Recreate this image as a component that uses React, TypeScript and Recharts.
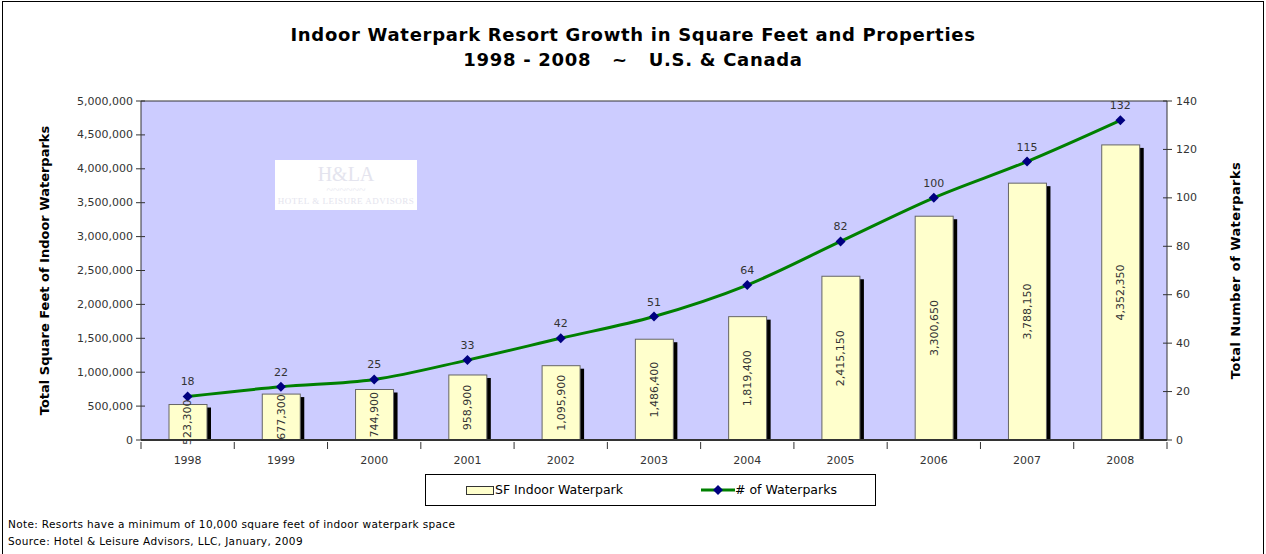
import React from 'react';
import {
  ComposedChart,
  Bar,
  Line,
  XAxis,
  YAxis,
  CartesianGrid,
  LabelList,
} from 'recharts';

const years = ['1998', '1999', '2000', '2001', '2002', '2003', '2004', '2005', '2006', '2007', '2008'];
const squareFeet = [523300, 677300, 744900, 958900, 1095900, 1486400, 1819400, 2415150, 3300650, 3788150, 4352350];
const waterparks = [18, 22, 25, 33, 42, 51, 64, 82, 100, 115, 132];
const leftTicks = [0, 500000, 1000000, 1500000, 2000000, 2500000, 3000000, 3500000, 4000000, 4500000, 5000000];
const rightTicks = [0, 20, 40, 60, 80, 100, 120, 140];

const data = years.map((year, i) => ({ year, sf: squareFeet[i], parks: waterparks[i] }));

const FONT = "'DejaVu Sans', Verdana, sans-serif";
const PLOT_LEFT = 141;
const PLOT_RIGHT = 1167;
const BAND = (PLOT_RIGHT - PLOT_LEFT) / years.length;

const fmt = (v: number) => v.toLocaleString('en-US');

const ShadowBar = (props: any) => {
  const { x, y, width, height } = props;
  if (!height) return null;
  return (
    <g>
      <rect x={x + 4} y={y + 3} width={width} height={height - 3} fill="#000" />
      <rect x={x} y={y} width={width} height={height} fill="#FFFFCC" stroke="#666" strokeWidth={1} />
    </g>
  );
};

const Diamond = (props: any) => {
  const { cx, cy } = props;
  if (cx == null || cy == null) return null;
  const r = 5;
  return (
    <polygon
      points={`${cx},${cy - r} ${cx + r},${cy} ${cx},${cy + r} ${cx - r},${cy}`}
      fill="#000080"
    />
  );
};

const BarValueLabel = (props: any) => {
  const { x, y, width, height, value } = props;
  const cx = x + width / 2;
  const cy = y + height / 2;
  return (
    <text
      x={cx}
      y={cy}
      transform={`rotate(-90 ${cx} ${cy})`}
      textAnchor="middle"
      dominantBaseline="central"
      fontSize={11}
      fill="#333"
    >
      {fmt(value)}
    </text>
  );
};

const YearTick = (props: any) => {
  const { x, y, payload, index } = props;
  const left = x - BAND / 2;
  return (
    <g>
      <line x1={left} y1={y - 6} x2={left} y2={y + 1} stroke="#333" />
      {index === years.length - 1 && (
        <line x1={x + BAND / 2} y1={y - 6} x2={x + BAND / 2} y2={y + 1} stroke="#333" />
      )}
      <text x={x} y={y + 16} textAnchor="middle" fontSize={11} fill="#333">
        {payload.value}
      </text>
    </g>
  );
};

const LeftTick = (props: any) => {
  const { y, payload } = props;
  return (
    <g>
      <line x1={PLOT_LEFT - 5} y1={y} x2={PLOT_LEFT + 4} y2={y} stroke="#333" />
      <text x={PLOT_LEFT - 8} y={y} textAnchor="end" dominantBaseline="central" fontSize={11} fill="#333">
        {fmt(payload.value)}
      </text>
    </g>
  );
};

const RightTick = (props: any) => {
  const { y, payload } = props;
  return (
    <g>
      <line x1={PLOT_RIGHT - 4} y1={y} x2={PLOT_RIGHT + 5} y2={y} stroke="#333" />
      <text x={PLOT_RIGHT + 9} y={y} textAnchor="start" dominantBaseline="central" fontSize={11} fill="#333">
        {payload.value}
      </text>
    </g>
  );
};

const axisTitle = (cx: number, text: string, spacing: number) => ({ viewBox }: any) => {
  const cy = viewBox.y + viewBox.height / 2;
  return (
    <text
      x={cx}
      y={cy}
      transform={`rotate(-90 ${cx} ${cy})`}
      textAnchor="middle"
      dominantBaseline="central"
      fontSize={13}
      fontWeight="bold"
      letterSpacing={spacing}
      fill="#000"
    >
      {text}
    </text>
  );
};

export default function App() {
  return (
    <div
      style={{
        position: 'fixed',
        left: 0,
        top: 0,
        width: 1266,
        height: 554,
        overflow: 'hidden',
        background: '#fff',
        fontFamily: FONT,
      }}
    >
      <div
        style={{
          position: 'absolute',
          left: 2,
          top: 1,
          width: 1260,
          height: 570,
          border: '1.5px solid #000',
        }}
      />
      <div
        style={{
          position: 'absolute',
          left: 0,
          top: 22,
          width: 1266,
          textAlign: 'center',
          fontWeight: 'bold',
          fontSize: 18,
          letterSpacing: 0.7,
          lineHeight: '25px',
          color: '#000',
        }}
      >
        <div>Indoor Waterpark Resort Growth in Square Feet and Properties</div>
        <div style={{ whiteSpace: 'pre' }}>{'1998 - 2008   ~   U.S. & Canada'}</div>
      </div>

      <div style={{ position: 'absolute', left: 0, top: 0 }}>
        <ComposedChart
          width={1266}
          height={554}
          data={data}
          margin={{ top: 101, right: 0, bottom: 84, left: 0 }}
          barCategoryGap={0}
        >
          <CartesianGrid
            fill="#CCCCFF"
            vertical={false}
            horizontalCoordinatesGenerator={() => [101]}
            stroke="#333"
          />
          <XAxis
            dataKey="year"
            height={30}
            tickLine={false}
            axisLine={{ stroke: '#333', strokeWidth: 2 }}
            tick={<YearTick />}
            interval={0}
          />
          <YAxis
            yAxisId="left"
            width={141}
            domain={[0, 5000000]}
            ticks={leftTicks}
            interval={0}
            tickLine={false}
            axisLine={{ stroke: '#333' }}
            tick={<LeftTick />}
            label={axisTitle(44, 'Total Square Feet of Indoor Waterparks', 0)}
          />
          <YAxis
            yAxisId="right"
            orientation="right"
            width={99}
            domain={[0, 140]}
            ticks={rightTicks}
            interval={0}
            tickLine={false}
            axisLine={{ stroke: '#333' }}
            tick={<RightTick />}
            label={axisTitle(1235, 'Total Number of Waterparks', 0.4)}
          />
          <Bar
            yAxisId="left"
            dataKey="sf"
            barSize={38}
            fill="#FFFFCC"
            shape={<ShadowBar />}
            isAnimationActive={false}
          >
            <LabelList dataKey="sf" content={<BarValueLabel />} />
          </Bar>
          <Line
            yAxisId="right"
            type="monotone"
            dataKey="parks"
            stroke="#008000"
            strokeWidth={3}
            dot={<Diamond />}
            activeDot={false}
            isAnimationActive={false}
          >
            <LabelList dataKey="parks" position="top" offset={11} fontSize={11} fill="#333" />
          </Line>
        </ComposedChart>
      </div>

      {/* logo placeholder */}
      <div
        style={{
          position: 'absolute',
          left: 275,
          top: 160,
          width: 142,
          height: 50,
          background: '#fff',
          color: '#e4e4ee',
          textAlign: 'center',
          fontFamily: "'Liberation Serif', serif",
        }}
      >
        <div style={{ fontSize: 20, lineHeight: '24px', paddingTop: 2 }}>H&amp;LA</div>
        <div style={{ fontSize: 12, lineHeight: '8px', color: '#e8e8f0' }}>~~~~~~</div>
        <div style={{ fontSize: 9, lineHeight: '14px', letterSpacing: 0.5 }}>HOTEL &amp; LEISURE ADVISORS</div>
      </div>

      {/* legend */}
      <div
        style={{
          position: 'absolute',
          left: 425,
          top: 474,
          width: 449,
          height: 30,
          border: '1px solid #000',
          background: '#fff',
          fontSize: 12.5,
          color: '#000',
        }}
      >
        <div style={{ position: 'absolute', left: 40, top: 11, width: 26, height: 7, background: '#FFFFCC', border: '1px solid #333' }} />
        <div style={{ position: 'absolute', left: 69, top: 7, lineHeight: '16px' }}>SF Indoor Waterpark</div>
        <svg style={{ position: 'absolute', left: 275, top: 8 }} width={34} height={14}>
          <line x1={0} y1={7} x2={34} y2={7} stroke="#008000" strokeWidth={3} />
          <polygon points="17,2 22,7 17,12 12,7" fill="#000080" />
        </svg>
        <div style={{ position: 'absolute', left: 309, top: 7, lineHeight: '16px' }}>
          # of Waterparks
        </div>
      </div>

      {/* footnotes */}
      <div
        style={{
          position: 'absolute',
          left: 8,
          top: 516,
          fontSize: 10.5,
          letterSpacing: 0.35,
          lineHeight: '17px',
          color: '#000',
        }}
      >
        <div>Note: Resorts have a minimum of 10,000 square feet of indoor waterpark space</div>
        <div>Source: Hotel &amp; Leisure Advisors, LLC, January, 2009</div>
      </div>
    </div>
  );
}
